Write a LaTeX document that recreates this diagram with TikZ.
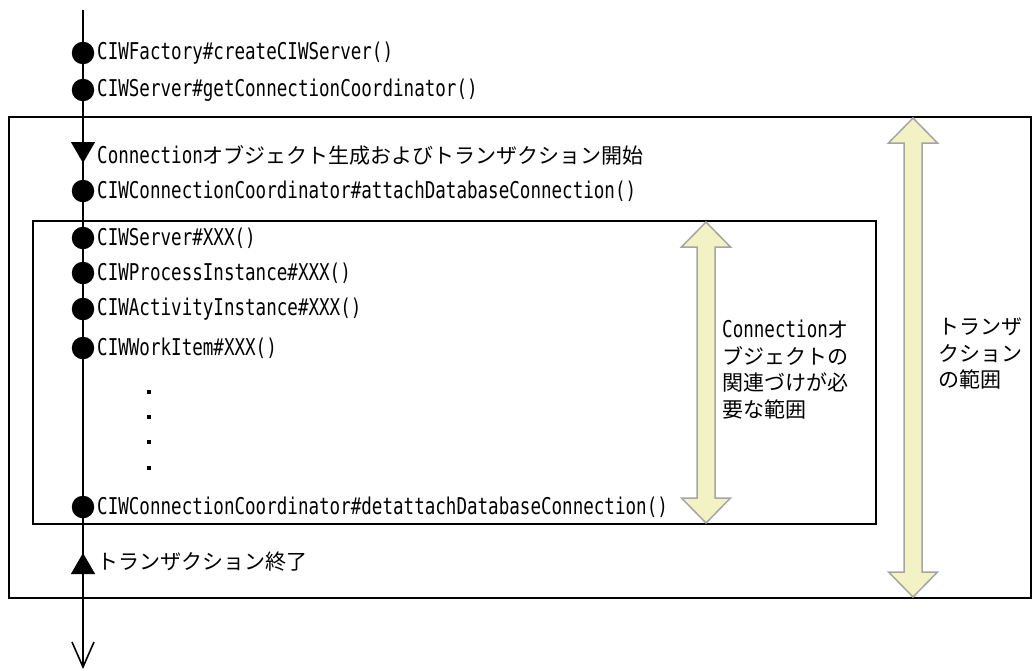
\documentclass[tikz,border=0pt]{standalone}
\usepackage{fontspec}
\usetikzlibrary{arrows.meta,shapes.geometric}
\setmainfont{Noto Sans CJK JP}
\newfontfamily\jp{Noto Sans CJK JP}
\newfontfamily\lat[Scale=1.1,FakeStretch=0.76]{DejaVu Sans Mono}
\definecolor{arrfill}{RGB}{242,242,196}
\definecolor{arrline}{RGB}{165,165,165}
\begin{document}
\begin{tikzpicture}[x=1pt,y=-1pt,
  frame/.style={draw=black,line width=1.6pt},
  dot/.style={circle,fill=black,inner sep=0pt,minimum size=22.5pt},
  tridown/.style={regular polygon,regular polygon sides=3,shape border rotate=180,fill=black,inner sep=0pt,minimum size=28pt},
  triup/.style={regular polygon,regular polygon sides=3,fill=black,inner sep=0pt,minimum size=28pt},
  small/.style={rectangle,fill=black,inner sep=0pt,minimum size=4pt},
  lbl/.style={anchor=west,inner sep=0pt,font=\fontsize{21}{26}\selectfont\lat},
  jlbl/.style={anchor=west,inner sep=0pt,font=\fontsize{21}{26}\selectfont\jp},
  rangelbl/.style={anchor=north west,inner sep=0pt,align=left,font=\fontsize{21}{26.5}\selectfont\jp},
  rangearrow/.style={fill=arrfill,draw=arrline,line width=1.5pt,line join=miter}
]
\useasboundingbox (0,0) rectangle (1033,670);
\fill[white] (0,0) rectangle (1033,670);

% frames
\draw[frame] (9,117) rectangle (1031,598);
\draw[frame] (33,221) rectangle (876,524);

% range arrows
\def\darrow#1#2#3{%
  \draw[rangearrow] (#1,#2) -- ++(24.5,25) -- ++(-15.5,0) -- (#1+9,#3-25) -- ++(15.5,0)
   -- (#1,#3) -- ++(-24.5,-25) -- ++(15.5,0) -- (#1-9,#2+25) -- ++(-15.5,0) -- cycle;}
\darrow{706}{222}{523}
\darrow{913}{118}{597}

% main time line
\coordinate (top) at (83,10);
\coordinate (bot) at (83,669);
\draw[line width=1.6pt,-{Straight Barb[length=25pt,width=22pt,line width=1.6pt]}] (top) -- (bot);

% markers
\node[dot] (d1) at (83,53) {};
\node[dot] (d2) at (83,90) {};
\node[tridown] (t1) at (83,149) {};
\node[dot] (d3) at (83,191) {};
\node[dot] (d4) at (83,238) {};
\node[dot] (d5) at (83,273) {};
\node[dot] (d6) at (83,309) {};
\node[dot] (d7) at (83,348) {};
\node[dot] (d8) at (83,507) {};
\node[triup] (t2) at (83,567) {};

\node[small] (s1) at (149,392) {};
\node[small] (s2) at (149,417) {};
\node[small] (s3) at (149,442) {};
\node[small] (s4) at (149,468) {};

% labels
\node[lbl] (l1) at (97,53) {CIWFactory\#createCIWServer()};
\node[lbl] (l2) at (97,90) {CIWServer\#getConnectionCoordinator()};
\node[jlbl] (l3) at (97,155) {{\lat Connection}オブジェクト生成およびトランザクション開始};
\node[lbl] (l4) at (97,191) {CIWConnectionCoordinator\#attachDatabaseConnection()};
\node[lbl] (l5) at (97,238) {CIWServer\#XXX()};
\node[lbl] (l6) at (97,273) {CIWProcessInstance\#XXX()};
\node[lbl] (l7) at (97,309) {CIWActivityInstance\#XXX()};
\node[lbl] (l8) at (97,348) {CIWWorkItem\#XXX()};
\node[lbl] (l9) at (97,507) {CIWConnectionCoordinator\#detattachDatabaseConnection()};
\node[jlbl] (l10) at (97,562) {トランザクション終了};

\node[rangelbl] (r1) at (722,320) {{\lat Connection}オ\\ブジェクトの\\関連づけが必\\要な範囲};
\node[rangelbl] (r2) at (938,318) {トランザ\\クション\\の範囲};
\end{tikzpicture}
\end{document}
